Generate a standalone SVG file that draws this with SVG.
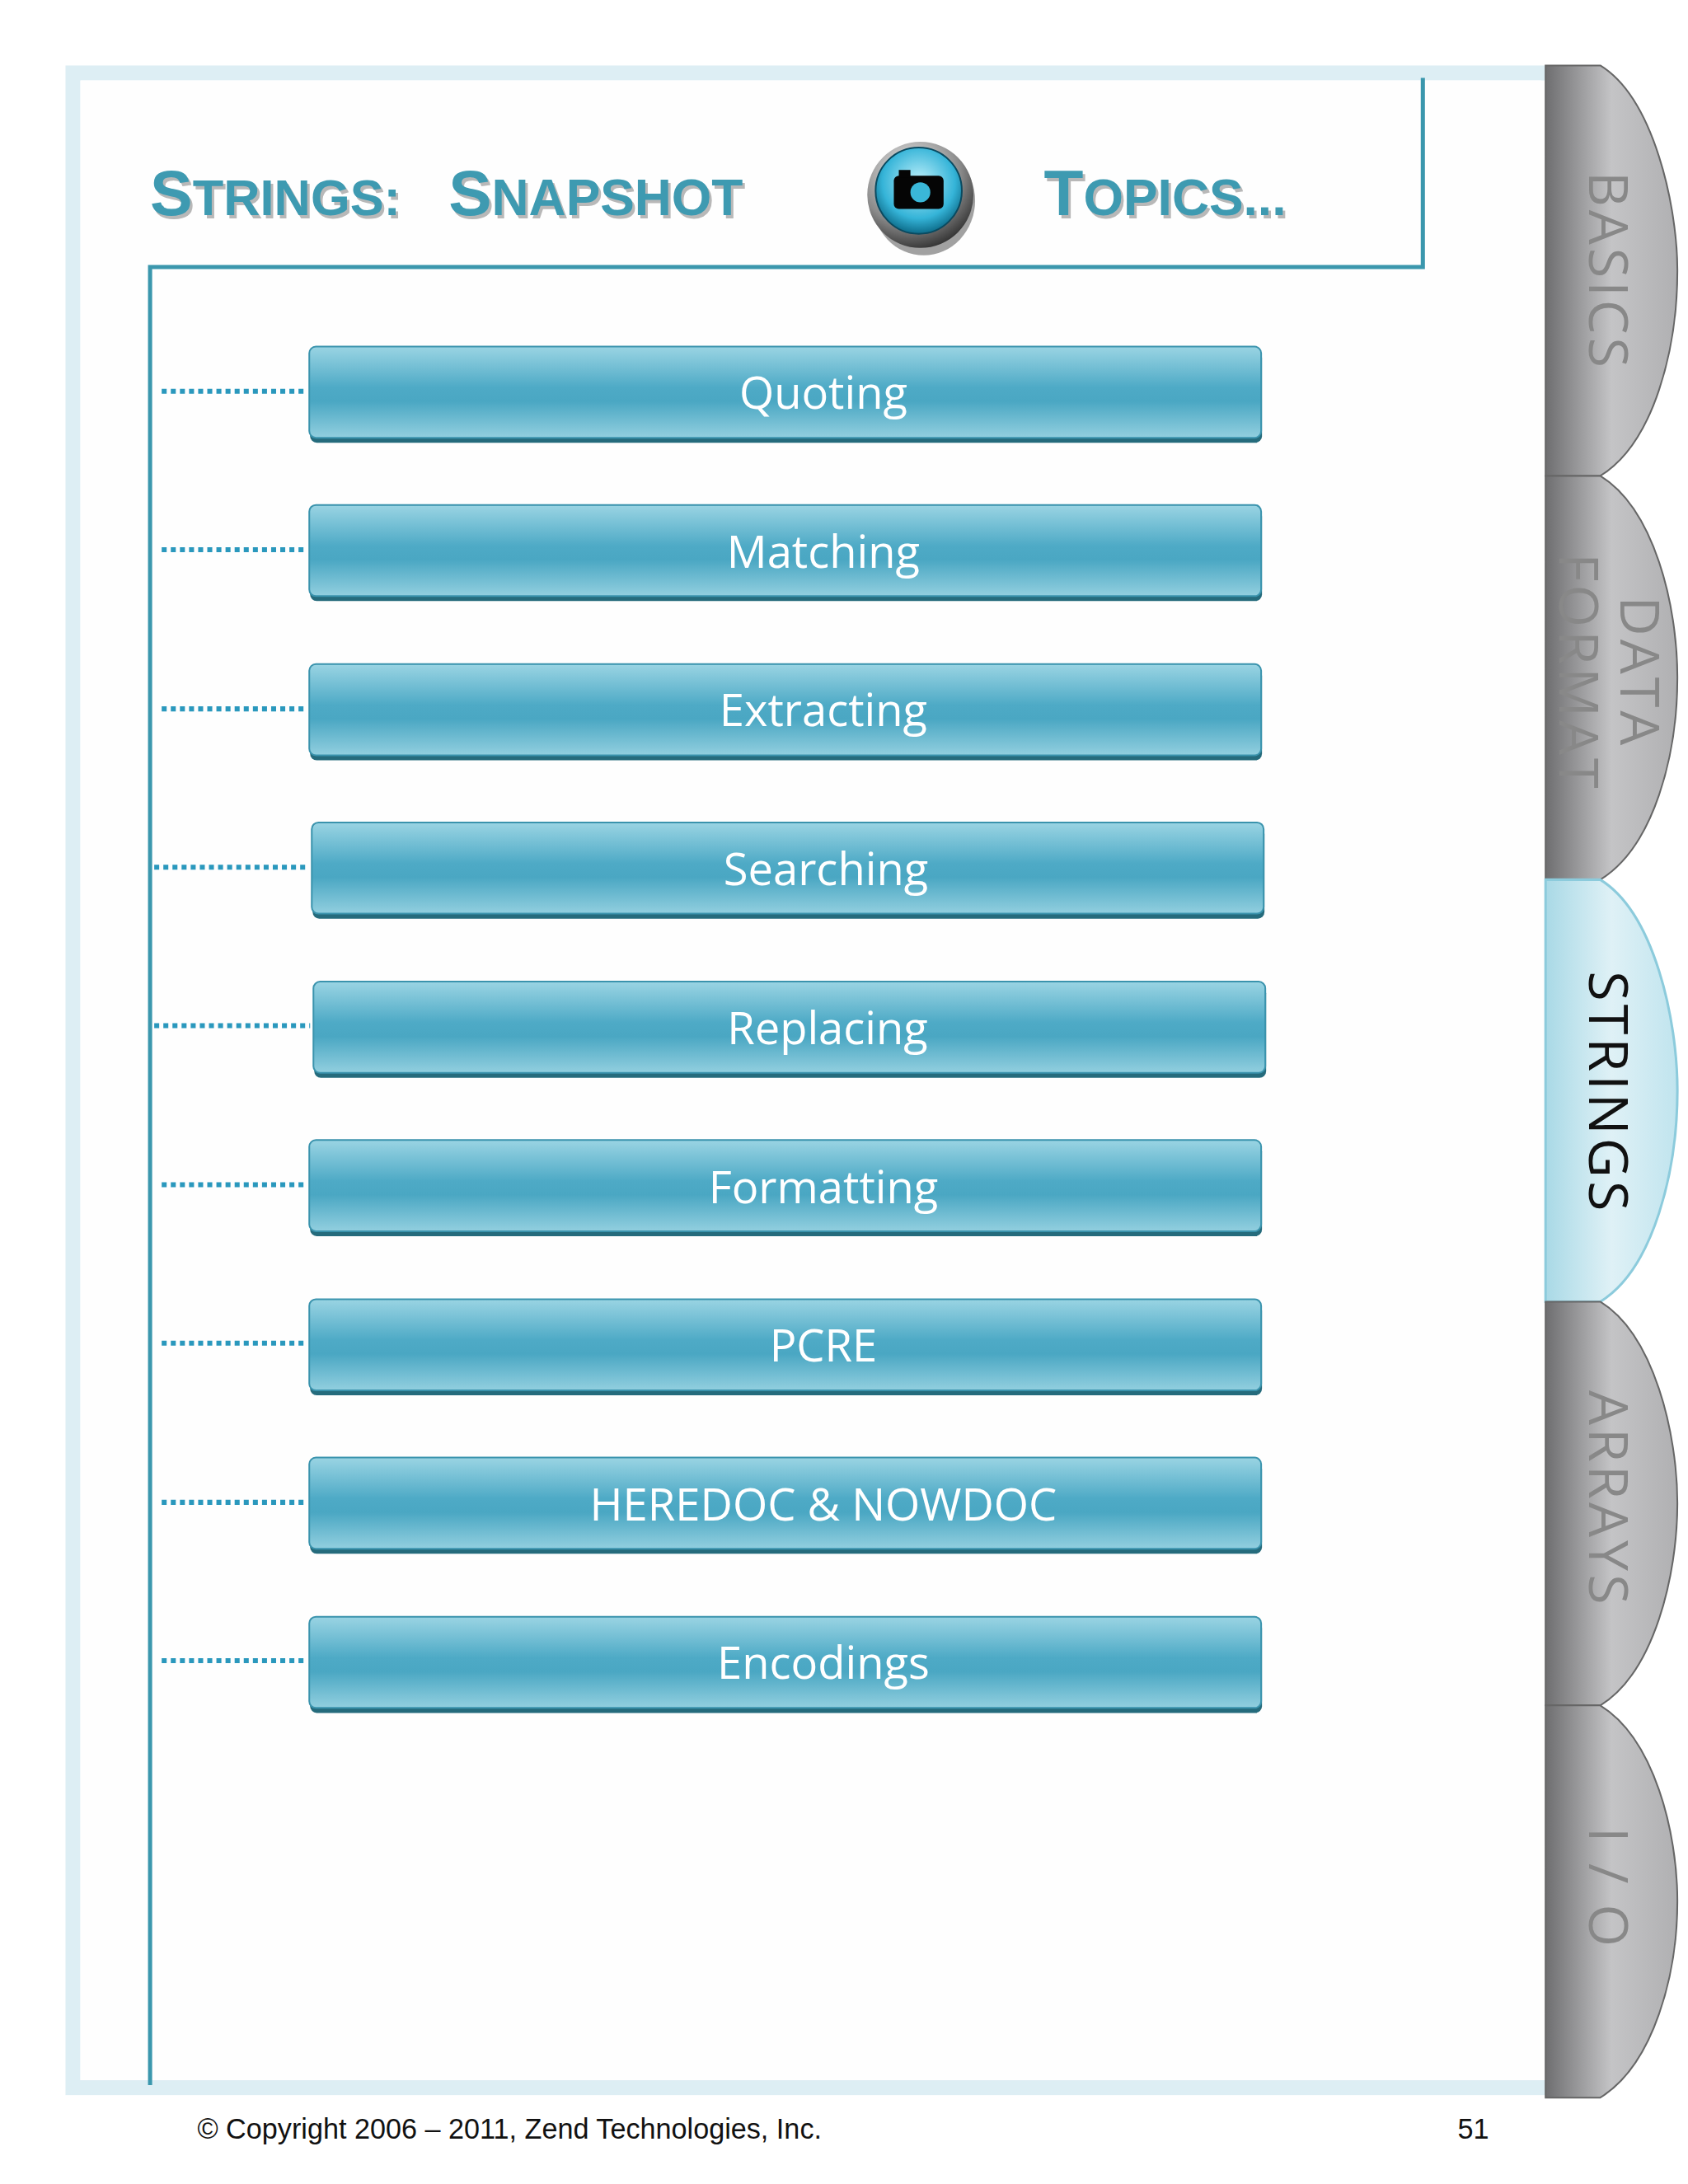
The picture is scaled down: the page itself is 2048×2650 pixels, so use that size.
<svg xmlns="http://www.w3.org/2000/svg" width="2048" height="2650" viewBox="0 0 2048 2650">
<defs>
<linearGradient id="bar" x1="0" y1="0" x2="0" y2="1">
<stop offset="0" stop-color="#9ad4e3"/><stop offset="0.45" stop-color="#4eaac6"/><stop offset="0.6" stop-color="#4aa7c3"/><stop offset="1" stop-color="#92cfdf"/>
</linearGradient>
<linearGradient id="gray" x1="0" y1="0" x2="1" y2="0">
<stop offset="0" stop-color="#6e6e70"/><stop offset="0.5" stop-color="#c4c4c6"/><stop offset="1" stop-color="#b0b0b2"/>
</linearGradient>
<linearGradient id="blue" x1="0" y1="0" x2="1" y2="0">
<stop offset="0" stop-color="#a9d9e6"/><stop offset="0.5" stop-color="#dff1f6"/><stop offset="1" stop-color="#c0e4ee"/>
</linearGradient>
<radialGradient id="lens" cx="0.5" cy="0.4" r="0.6">
<stop offset="0" stop-color="#bff0fb"/><stop offset="0.7" stop-color="#35b4d8"/><stop offset="1" stop-color="#0d6c8a"/>
</radialGradient>
<radialGradient id="ring" cx="0.4" cy="0.3" r="0.8">
<stop offset="0" stop-color="#f4f4f4"/><stop offset="0.6" stop-color="#8a8a8a"/><stop offset="1" stop-color="#1a1a1a"/>
</radialGradient>
<style>
.bar{fill:url(#bar);stroke:#3a93ad;stroke-width:2}
.sh{fill:#256b7c}
.bt{font-family:"Open Sans","DejaVu Sans",sans-serif;font-size:54px;fill:#fff;text-anchor:middle}
.dot{stroke:#2a98bd;stroke-width:6;stroke-dasharray:6 5}
.tab{fill:url(#gray);stroke:#666;stroke-width:2}
.tt{font-family:"Open Sans","DejaVu Sans",sans-serif;font-size:66px;fill:#888;text-anchor:middle;letter-spacing:4px}
.ti{font-family:"Liberation Sans",sans-serif;font-weight:bold;fill:#3e9ab1}
.tis{font-family:"Liberation Sans",sans-serif;font-weight:bold;fill:#b8b8b8}
</style>
</defs>
<rect x="0" y="0" width="2048" height="2650" fill="#fff"/>
<g transform="scale(1.006)">
<rect x="88" y="88" width="1780" height="2430" fill="none" stroke="#ddeef4" stroke-width="18"/>
<rect x="97" y="97" width="1767" height="2412" fill="#fefefe"/>
<g id="frame" stroke="#3b97ad" stroke-width="5" fill="none">
<path d="M1716 94 V322 H181 V2515"/>
</g>
<g id="title">
<text x="184" y="263" font-size="77" class="tis">S<tspan font-size="61">TRINGS:</tspan></text>
<text x="181" y="259" font-size="77" class="ti">S<tspan font-size="61">TRINGS:</tspan></text>
<text x="544" y="263" font-size="78" class="tis">S<tspan font-size="62">NAPSHOT</tspan></text>
<text x="541" y="259" font-size="78" class="ti">S<tspan font-size="62">NAPSHOT</tspan></text>
<text x="1262" y="263" font-size="78" class="tis">T<tspan font-size="62">OPICS...</tspan></text>
<text x="1259" y="259" font-size="78" class="ti">T<tspan font-size="62">OPICS...</tspan></text>
</g>
<g id="camera">
<ellipse cx="1114" cy="242" rx="62" ry="66" fill="#444" opacity="0.5"/>
<circle cx="1110" cy="235" r="64" fill="url(#ring)"/>
<circle cx="1108" cy="230" r="52" fill="url(#lens)" stroke="#0a4a60" stroke-width="2"/>
<rect x="1078" y="212" width="60" height="40" rx="6" fill="#050505"/>
<rect x="1084" y="205" width="14" height="9" fill="#050505"/>
<circle cx="1110" cy="232" r="12" fill="#3ab7d8"/>
</g>
<g id="connectors">
<line class="dot" x1="195" y1="472" x2="369" y2="472"/>
<line class="dot" x1="195" y1="663" x2="369" y2="663"/>
<line class="dot" x1="195" y1="855" x2="369" y2="855"/>
<line class="dot" x1="186" y1="1046" x2="372" y2="1046"/>
<line class="dot" x1="186" y1="1237" x2="374" y2="1237"/>
<line class="dot" x1="195" y1="1429" x2="369" y2="1429"/>
<line class="dot" x1="195" y1="1620" x2="369" y2="1620"/>
<line class="dot" x1="195" y1="1812" x2="369" y2="1812"/>
<line class="dot" x1="195" y1="2003" x2="369" y2="2003"/>
</g>
<g id="n1"><rect class="sh" x="374" y="424" width="1148" height="110" rx="8"/><rect class="bar" x="373" y="418" width="1148" height="110" rx="8"/><text class="bt" x="993" y="493">Quoting</text></g>
<g id="n2"><rect class="sh" x="374" y="615" width="1148" height="110" rx="8"/><rect class="bar" x="373" y="609" width="1148" height="110" rx="8"/><text class="bt" x="993" y="685">Matching</text></g>
<g id="n3"><rect class="sh" x="374" y="807" width="1148" height="110" rx="8"/><rect class="bar" x="373" y="801" width="1148" height="110" rx="8"/><text class="bt" x="993" y="876">Extracting</text></g>
<g id="n4"><rect class="sh" x="377" y="998" width="1148" height="110" rx="8"/><rect class="bar" x="376" y="992" width="1148" height="110" rx="8"/><text class="bt" x="996" y="1068">Searching</text></g>
<g id="n5"><rect class="sh" x="379" y="1190" width="1148" height="110" rx="8"/><rect class="bar" x="378" y="1184" width="1148" height="110" rx="8"/><text class="bt" x="998" y="1259">Replacing</text></g>
<g id="n6"><rect class="sh" x="374" y="1381" width="1148" height="110" rx="8"/><rect class="bar" x="373" y="1375" width="1148" height="110" rx="8"/><text class="bt" x="993" y="1451">Formatting</text></g>
<g id="n7"><rect class="sh" x="374" y="1573" width="1148" height="110" rx="8"/><rect class="bar" x="373" y="1567" width="1148" height="110" rx="8"/><text class="bt" x="993" y="1642">PCRE</text></g>
<g id="n8"><rect class="sh" x="374" y="1764" width="1148" height="110" rx="8"/><rect class="bar" x="373" y="1758" width="1148" height="110" rx="8"/><text class="bt" x="993" y="1834">HEREDOC &amp; NOWDOC</text></g>
<g id="n9"><rect class="sh" x="374" y="1956" width="1148" height="110" rx="8"/><rect class="bar" x="373" y="1950" width="1148" height="110" rx="8"/><text class="bt" x="993" y="2025">Encodings</text></g>
<g id="tab-basics"><path class="tab" d="M1864 79 H1930 C1995 119 2023 250 2023 326 C2023 420 1995 534 1930 574 H1864 Z"/><text class="tt" transform="translate(1939 327) rotate(90)" y="22">BASICS</text></g>
<g id="tab-data"><path class="tab" d="M1864 574 H1930 C1995 614 2023 730 2023 817 C2023 910 1995 1021 1930 1061 H1864 Z"/><text class="tt" transform="translate(1939 811) rotate(90)" y="-15">DATA</text><text class="tt" transform="translate(1939 811) rotate(90)" y="58">FORMAT</text></g>
<g id="tab-strings"><path d="M1864 1061 H1930 C1995 1101 2023 1230 2023 1315 C2023 1410 1995 1530 1930 1570 H1864 Z" fill="url(#blue)" stroke="#8ccbdc" stroke-width="3"/><text class="tt" style="fill:#111" transform="translate(1939 1318) rotate(90)" y="22">STRINGS</text></g>
<g id="tab-arrays"><path class="tab" d="M1864 1570 H1930 C1995 1610 2023 1730 2023 1813 C2023 1900 1995 2017 1930 2057 H1864 Z"/><text class="tt" transform="translate(1939 1808) rotate(90)" y="22">ARRAYS</text></g>
<g id="tab-io"><path class="tab" d="M1864 2057 H1930 C1995 2097 2023 2210 2023 2293 C2023 2380 1995 2490 1930 2530 H1864 Z"/><text class="tt" transform="translate(1939 2278) rotate(90)" y="22">I / O</text></g>
<g id="footer" font-family="Liberation Sans,Arial,sans-serif" font-size="34" fill="#111">
<text x="238" y="2580">© Copyright 2006 – 2011, Zend Technologies, Inc.</text>
<text x="1758" y="2580">51</text>
</g>
</g>
</svg>
